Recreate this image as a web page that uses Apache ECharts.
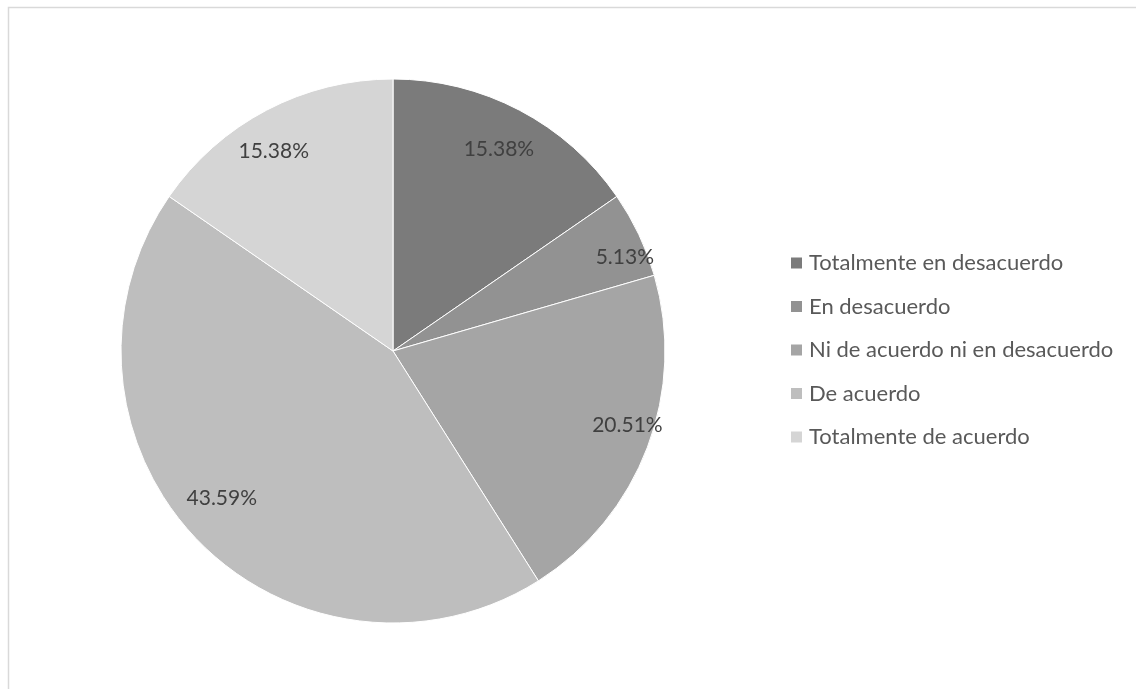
<!DOCTYPE html>
<html>
<head>
<meta charset="utf-8">
<script src="https://cdn.jsdelivr.net/npm/echarts@6/dist/echarts.min.js"></script>
<style>
  html, body { margin: 0; padding: 0; background: #fff; }
  #chart { width: 1136px; height: 689px; }
</style>
</head>
<body>
<div id="chart"></div>
<script>
// Response categories and their shares (percent)
const categories = [
  'Totalmente en desacuerdo',
  'En desacuerdo',
  'Ni de acuerdo ni en desacuerdo',
  'De acuerdo',
  'Totalmente de acuerdo'
];
const percentages = [15.38, 5.13, 20.51, 43.59, 15.38];
const sliceColors = ['#7b7b7b', '#929292', '#a5a5a5', '#bebebe', '#d5d5d5'];

// Styling: where each value label sits — distance from the centre (px)
// and a small angular nudge away from the slice's mid-angle (degrees)
const PIE_RADIUS = 272;
const labelRadii = [225, 247, 243, 223, 230];
const labelAngleShift = [0, -3.4, 3.1, -3.1, 3.1];

const fontFamily = 'Lato, "Open Sans", sans-serif';
const center = [393, 351];

const pieData = categories.map((name, i) => ({
  name,
  value: percentages[i],
  itemStyle: { color: sliceColors[i] }
}));

// One transparent ring per label: an "inside" label sits midway across its ring,
// so the ring [2r - R, R] puts that slice's label at radius r.
const labelSeries = labelRadii.map((r, idx) => ({
  type: 'pie',
  center,
  radius: [2 * r - PIE_RADIUS, PIE_RADIUS],
  startAngle: 90 + labelAngleShift[idx],
  clockwise: true,
  silent: true,
  legendHoverLink: false,
  itemStyle: { color: 'rgba(0,0,0,0)', borderWidth: 0 },
  label: {
    show: false,
    position: 'inside',
    formatter: (p) => p.value.toFixed(2) + '%',
    fontFamily,
    fontSize: 21,
    color: '#404040'
  },
  labelLine: { show: false },
  emphasis: { disabled: true },
  data: categories.map((name, i) => ({
    name,
    value: percentages[i],
    label: { show: i === idx }
  }))
}));

const chart = echarts.init(document.getElementById('chart'));
chart.setOption({
  animation: false,
  backgroundColor: '#fff',
  graphic: [{
    type: 'rect',
    shape: { x: 8.5, y: 7.5, width: 1300, height: 900 },
    style: { fill: 'none', stroke: '#d9d9d9', lineWidth: 1.5 },
    silent: true,
    z: -10
  }],
  legend: {
    orient: 'vertical',
    left: 784,
    top: 247,
    itemWidth: 13,
    itemHeight: 13,
    itemGap: 21.5,
    icon: 'rect',
    data: categories,
    textStyle: { fontFamily, fontSize: 22, color: '#595959', padding: [0, 0, 0, 1] }
  },
  series: [
    {
      // the pie itself
      type: 'pie',
      center,
      radius: [0, PIE_RADIUS],
      startAngle: 90,
      clockwise: true,
      label: { show: false },
      labelLine: { show: false },
      itemStyle: { borderColor: '#ffffff', borderWidth: 1 },
      emphasis: { disabled: true },
      data: pieData
    },
    ...labelSeries
  ]
});
</script>
</body>
</html>
